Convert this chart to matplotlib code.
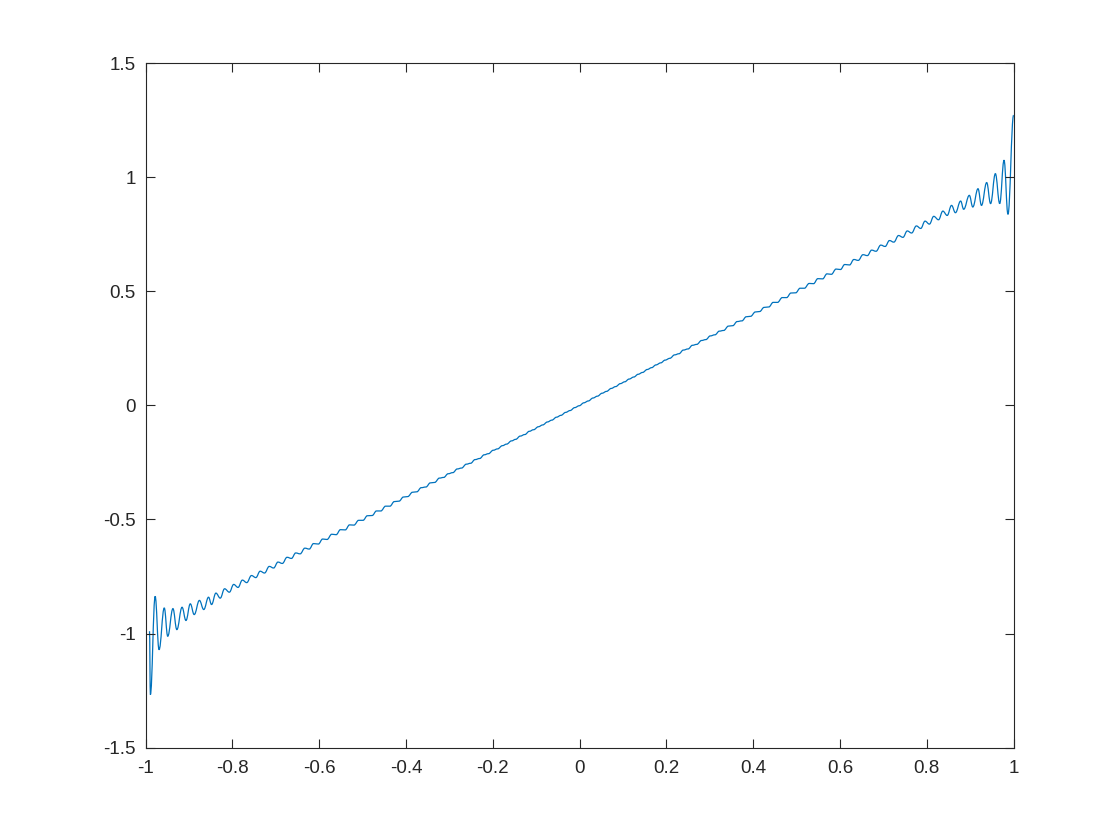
import matplotlib
matplotlib.use('Agg')
import matplotlib.pyplot as plt
from matplotlib.path import Path
from matplotlib.patches import PathPatch

plt.rcParams['font.family'] = ['Liberation Sans', 'DejaVu Sans']
plt.rcParams['axes.unicode_minus'] = False

# extrema of the curve (left end, middle, right end)
x_left = [-0.991, -0.989, -0.978, -0.969, -0.957, -0.949, -0.937, -0.928, -0.916, -0.907,
          -0.897, -0.888, -0.876, -0.866, -0.855, -0.848, -0.838, -0.828, -0.818, -0.807,
          -0.797, -0.787, -0.777, -0.767, -0.756, -0.746, -0.736, -0.726, -0.715, -0.705,
          -0.695, -0.685, -0.674, -0.664, -0.654, -0.644, -0.633, -0.623, -0.613, -0.602,
          -0.592, -0.582, -0.571, -0.561, -0.551, -0.540, -0.530, -0.520, -0.509, -0.499,
          -0.489, -0.478, -0.468, -0.458, -0.447, -0.437, -0.427, -0.416, -0.406, -0.396,
          -0.385, -0.375, -0.365, -0.354, -0.344, -0.334, -0.323, -0.313, -0.303, -0.292,
          -0.282, -0.272, -0.261, -0.251, -0.241, -0.230, -0.220, -0.210, -0.199]
y_left = [-0.990, -1.268, -0.837, -1.071, -0.888, -1.012, -0.891, -0.983, -0.885, -0.943,
          -0.870, -0.917, -0.855, -0.895, -0.841, -0.873, -0.823, -0.845, -0.804, -0.819,
          -0.785, -0.798, -0.766, -0.777, -0.746, -0.755, -0.727, -0.735, -0.706, -0.713,
          -0.687, -0.693, -0.666, -0.671, -0.647, -0.651, -0.626, -0.630, -0.606, -0.608,
          -0.586, -0.588, -0.565, -0.567, -0.545, -0.546, -0.524, -0.525, -0.504, -0.504,
          -0.484, -0.483, -0.463, -0.463, -0.442, -0.442, -0.422, -0.420, -0.402, -0.400,
          -0.381, -0.379, -0.361, -0.358, -0.340, -0.338, -0.319, -0.316, -0.300, -0.295,
          -0.279, -0.275, -0.258, -0.254, -0.238, -0.233, -0.217, -0.212, -0.197]

x_mid = [-0.189, -0.178, -0.168, -0.157, -0.147, -0.137, -0.126, -0.116, -0.106, -0.095,
         -0.085, -0.074, -0.064, -0.053, -0.043, -0.032, -0.022, -0.011, -0.001,
         0.010, 0.020, 0.031, 0.041, 0.052, 0.062, 0.073, 0.083, 0.094,
         0.104, 0.114, 0.125, 0.135, 0.145, 0.156, 0.166, 0.176, 0.187, 0.197]
y_mid = [-0.191, -0.177, -0.170, -0.156, -0.149, -0.135, -0.128, -0.114, -0.107, -0.094,
         -0.086, -0.073, -0.065, -0.052, -0.044, -0.031, -0.023, -0.010, -0.002,
         0.011, 0.019, 0.032, 0.040, 0.053, 0.061, 0.074, 0.082, 0.095,
         0.103, 0.115, 0.124, 0.136, 0.144, 0.157, 0.165, 0.177, 0.186, 0.198]

x_right = [0.208, 0.219, 0.229, 0.239, 0.250, 0.260, 0.270, 0.281, 0.291, 0.301,
           0.312, 0.322, 0.332, 0.343, 0.353, 0.363, 0.374, 0.384, 0.394, 0.405,
           0.415, 0.425, 0.436, 0.446, 0.456, 0.467, 0.477, 0.487, 0.498, 0.508,
           0.518, 0.529, 0.539, 0.549, 0.560, 0.570, 0.580, 0.591, 0.601, 0.611,
           0.622, 0.632, 0.642, 0.653, 0.663, 0.673, 0.683, 0.694, 0.704, 0.714,
           0.724, 0.735, 0.745, 0.755, 0.765, 0.776, 0.786, 0.796, 0.806, 0.816,
           0.827, 0.837, 0.847, 0.857, 0.866, 0.878, 0.885, 0.898, 0.906, 0.918,
           0.926, 0.938, 0.947, 0.958, 0.968, 0.978, 0.987, 1.000]
y_right = [0.206, 0.221, 0.226, 0.242, 0.247, 0.263, 0.267, 0.284, 0.288, 0.304,
           0.309, 0.325, 0.328, 0.347, 0.349, 0.367, 0.370, 0.388, 0.390, 0.409,
           0.411, 0.429, 0.431, 0.451, 0.451, 0.472, 0.472, 0.492, 0.493, 0.513,
           0.513, 0.534, 0.533, 0.555, 0.554, 0.576, 0.574, 0.597, 0.595, 0.617,
           0.615, 0.639, 0.635, 0.660, 0.656, 0.680, 0.675, 0.702, 0.696, 0.722,
           0.715, 0.744, 0.736, 0.764, 0.755, 0.786, 0.775, 0.807, 0.794, 0.828,
           0.813, 0.851, 0.832, 0.876, 0.844, 0.895, 0.859, 0.920, 0.869, 0.949,
           0.876, 0.976, 0.884, 1.015, 0.884, 1.074, 0.837, 1.271]

x_ticks = [-1, -0.8, -0.6, -0.4, -0.2, 0, 0.2, 0.4, 0.6, 0.8, 1]
x_labels = ['-1', '-0.8', '-0.6', '-0.4', '-0.2', '0', '0.2', '0.4', '0.6', '0.8', '1']
y_ticks = [-1.5, -1, -0.5, 0, 0.5, 1, 1.5]
y_labels = ['-1.5', '-1', '-0.5', '0', '0.5', '1', '1.5']

xs = x_left + x_mid + x_right
ys = y_left + y_mid + y_right

fig = plt.figure(figsize=(11.2, 8.4), dpi=100)
ax = fig.add_axes([0.13, 0.11, 0.775, 0.815])

# smooth wave: cubic bezier between the read extrema, flat at each extremum
verts = [(xs[0], ys[0])]
codes = [Path.MOVETO]
for i in range(1, len(xs)):
    x0, y0 = xs[i - 1], ys[i - 1]
    x1, y1 = xs[i], ys[i]
    d = (x1 - x0) / 2.5
    verts += [(x0 + d, y0), (x1 - d, y1), (x1, y1)]
    codes += [Path.CURVE4] * 3
ax.add_patch(PathPatch(Path(verts, codes), facecolor='none',
                       edgecolor='#0072BD', linewidth=0.9))

ax.set_xlim(-1, 1)
ax.set_ylim(-1.5, 1.5)
ax.set_xticks(x_ticks)
ax.set_xticklabels(x_labels)
ax.set_yticks(y_ticks)
ax.set_yticklabels(y_labels)

# matlab-like box with inward ticks on all sides
for s in ax.spines.values():
    s.set_color('#262626')
    s.set_linewidth(0.8)
ax.tick_params(direction='in', top=True, right=True, length=6.3, width=0.8,
               colors='#262626', labelsize=13.5)
ax.tick_params(axis='x', pad=9)
ax.tick_params(axis='y', pad=7)

fig.savefig('out.png', dpi=100)
